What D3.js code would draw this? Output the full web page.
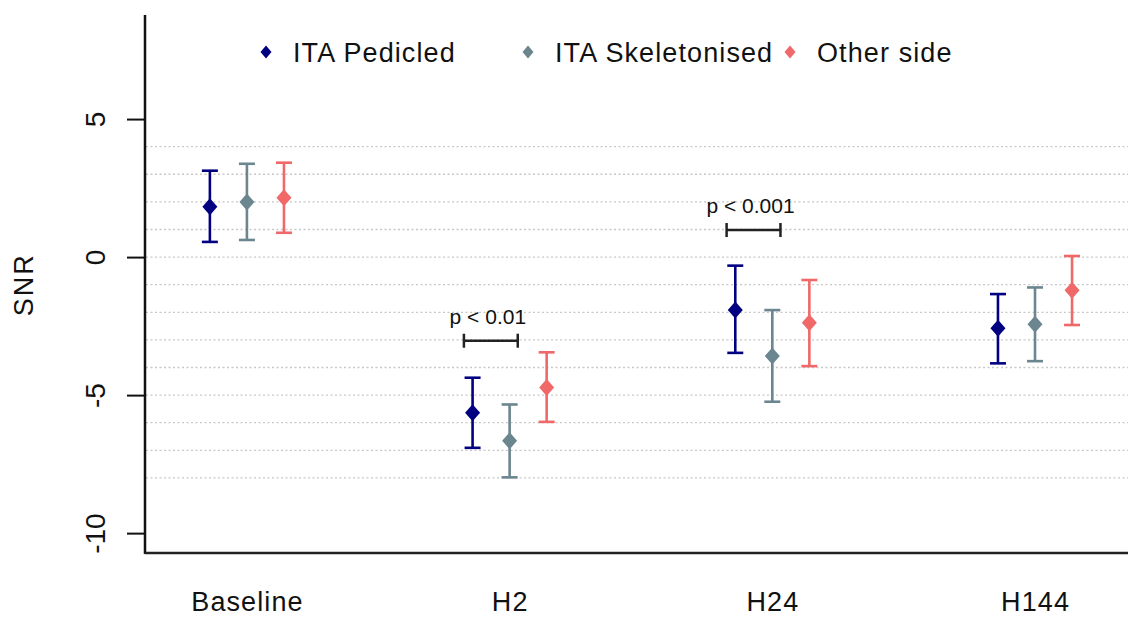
<!DOCTYPE html>
<html>
<head>
<meta charset="utf-8">
<script src="https://cdn.jsdelivr.net/npm/d3@7"></script>
<style>
  html, body { margin: 0; padding: 0; background: #fff; }
  svg { display: block; font-family: "Liberation Sans", Arial, sans-serif; }
</style>
</head>
<body>
<svg id="chart" width="1128" height="617"></svg>
<script>
// ---- data ----
const categories = ["Baseline", "H2", "H24", "H144"];
const seriesNames = ["ITA Pedicled", "ITA Skeletonised", "Other side"];
const seriesColors = ["#000080", "#6b868f", "#f06868"];
const pedicledMean  = [1.82, -5.64, -1.92, -2.58];
const pedicledLow   = [0.55, -6.91, -3.47, -3.85];
const pedicledHigh  = [3.13, -4.37, -0.31, -1.34];
const skelMean      = [2.00, -6.65, -3.58, -2.43];
const skelLow       = [0.62, -7.98, -5.24, -3.77];
const skelHigh      = [3.38, -5.34, -1.92, -1.10];
const otherMean     = [2.15, -4.72, -2.38, -1.20];
const otherLow      = [0.88, -5.97, -3.95, -2.46];
const otherHigh     = [3.42, -3.45, -0.83, 0.04];
const yTicks = [-10, -5, 0, 5];
const yTickLabels = ["-10", "-5", "0", "5"];
const gridValues = [-8, -7, -6, -5, -4, -3, -2, -1, 0, 1, 2, 3, 4];
const compCategories = ["H2", "H24"];
const compLabels = ["p < 0.01", "p < 0.001"];
const compLevels = [-3.03, 0.98];

const series = [
  { name: seriesNames[0], mean: pedicledMean, low: pedicledLow, high: pedicledHigh },
  { name: seriesNames[1], mean: skelMean, low: skelLow, high: skelHigh },
  { name: seriesNames[2], mean: otherMean, low: otherLow, high: otherHigh }
];

// ---- layout ----
const svg = d3.select("#chart");
const axisX = 145, axisYBottom = 553, axisYTop = 15, rightEdge = 1128;
const LS = 1.1; // letter spacing for large labels

const x = d3.scaleLinear().domain([0.612, 4.354]).range([axisX, rightEdge]);
const y = d3.scaleLinear().domain([-10.72, 8.77]).range([axisYBottom, axisYTop]);
const dodge = d3.scalePoint().domain(seriesNames).range([-0.141, 0.141]);
const catX = c => x(categories.indexOf(c) + 1);

// gridlines
svg.append("g").selectAll("line").data(gridValues).join("line")
  .attr("x1", axisX + 1).attr("x2", rightEdge)
  .attr("y1", d => y(d)).attr("y2", d => y(d))
  .attr("stroke", "#c8c8c8").attr("stroke-width", 1.3)
  .attr("stroke-dasharray", "2,2.5");

// y axis
const yAxis = d3.axisLeft(y).tickValues(yTicks).tickSize(18)
  .tickFormat(d => yTickLabels[yTicks.indexOf(d)]);
const gy = svg.append("g").attr("transform", `translate(${axisX},0)`).call(yAxis);
gy.select(".domain").remove();
gy.selectAll(".tick line").attr("stroke", "#111").attr("stroke-width", 2);
gy.selectAll(".tick text")
  .attr("x", null).attr("dy", null)
  .attr("transform", "translate(-40,0) rotate(-90)")
  .attr("text-anchor", "middle")
  .attr("font-size", 28).attr("fill", "#111")
  .attr("font-family", "Liberation Sans, Arial, sans-serif");

// axis lines
svg.append("line").attr("x1", axisX).attr("x2", axisX)
  .attr("y1", axisYTop).attr("y2", axisYBottom + 1)
  .attr("stroke", "#111").attr("stroke-width", 2.5);
svg.append("line").attr("x1", axisX).attr("x2", rightEdge)
  .attr("y1", axisYBottom).attr("y2", axisYBottom)
  .attr("stroke", "#222").attr("stroke-width", 2.5);

// x category labels
svg.append("g").selectAll("text").data(categories).join("text")
  .attr("x", d => catX(d) + LS / 2).attr("y", 611)
  .attr("text-anchor", "middle").attr("font-size", 27).attr("fill", "#111")
  .attr("letter-spacing", LS)
  .text(d => d);

// y axis title
svg.append("text").attr("transform", `translate(33,${y(-1)}) rotate(-90)`)
  .attr("text-anchor", "middle").attr("font-size", 27).attr("fill", "#111")
  .attr("letter-spacing", 2)
  .text("SNR");

// error bars + diamonds
const diamond = (w, h) => `M0,${-h/2}L${w/2},0L0,${h/2}L${-w/2},0Z`;
series.forEach((s, si) => {
  const g = svg.append("g");
  const color = seriesColors[si];
  const pts = categories.map((c, i) => ({
    cx: x(i + 1 + dodge(s.name)), m: s.mean[i], lo: s.low[i], hi: s.high[i]
  }));
  g.selectAll("line.v").data(pts).join("line").attr("class", "v")
    .attr("x1", d => d.cx).attr("x2", d => d.cx)
    .attr("y1", d => y(d.lo)).attr("y2", d => y(d.hi))
    .attr("stroke", color).attr("stroke-width", 2.6);
  ["lo", "hi"].forEach(k => {
    g.selectAll("line." + k).data(pts).join("line").attr("class", k)
      .attr("x1", d => d.cx - 8).attr("x2", d => d.cx + 8)
      .attr("y1", d => y(d[k])).attr("y2", d => y(d[k]))
      .attr("stroke", color).attr("stroke-width", 2.6);
  });
  g.selectAll("path").data(pts).join("path")
    .attr("d", diamond(15, 17))
    .attr("transform", d => `translate(${d.cx},${y(d.m)})`)
    .attr("fill", color);
});

// comparison brackets
compCategories.forEach((c, i) => {
  const ci = categories.indexOf(c) + 1;
  const x1 = x(ci + dodge(seriesNames[0]) - 0.033);
  const x2 = x(ci + dodge(seriesNames[1]) + 0.031);
  const yy = y(compLevels[i]);
  const g = svg.append("g").attr("stroke", "#222").attr("stroke-width", 2.5);
  g.append("line").attr("x1", x1).attr("x2", x2).attr("y1", yy).attr("y2", yy);
  g.append("line").attr("x1", x1).attr("x2", x1).attr("y1", yy - 7).attr("y2", yy + 7);
  g.append("line").attr("x1", x2).attr("x2", x2).attr("y1", yy - 7).attr("y2", yy + 7);
  svg.append("text").attr("x", (x1 + x2) / 2 - 3).attr("y", yy - 17)
    .attr("text-anchor", "middle").attr("font-size", 21).attr("fill", "#111")
    .text(compLabels[i]);
});

// legend
const legendX = [266, 528, 790];
const lg = svg.append("g");
seriesNames.forEach((n, i) => {
  lg.append("path").attr("d", diamond(11, 13))
    .attr("transform", `translate(${legendX[i]},52)`).attr("fill", seriesColors[i]);
  lg.append("text").attr("x", legendX[i] + 27).attr("y", 62)
    .attr("font-size", 27).attr("fill", "#111").attr("letter-spacing", LS).text(n);
});
</script>
</body>
</html>
